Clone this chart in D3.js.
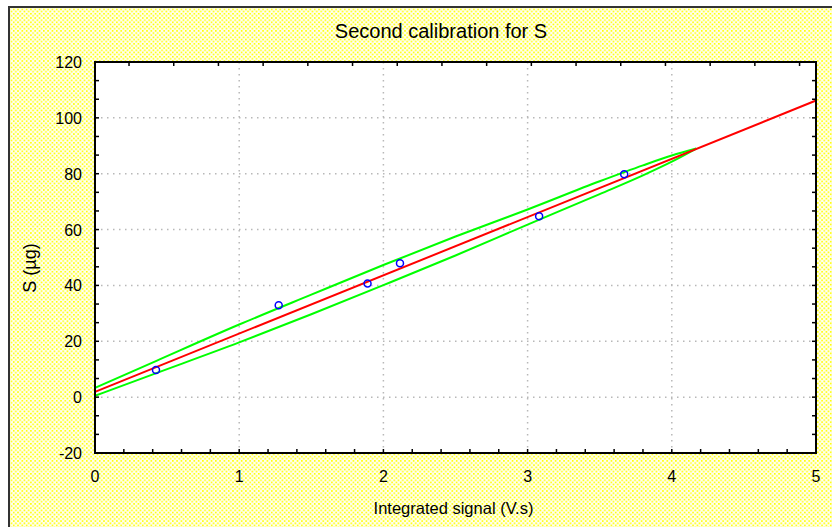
<!DOCTYPE html>
<html>
<head>
<meta charset="utf-8">
<script src="https://cdn.jsdelivr.net/npm/d3@7"></script>
<style>
  body { margin: 0; background: #fff; }
  text { font-family: "Liberation Sans", Arial, sans-serif; fill: #000; }
</style>
</head>
<body>
<div id="chart-area"></div>
<script>
// observed calibration points
let signal = [0.423, 1.274, 1.89, 2.115, 3.08, 3.67];
let amountS = [9.7, 32.9, 40.7, 47.9, 64.8, 79.8];

// fitted line, read at both ends of the plot
let fitX = [0, 5];
let fitY = [1.9, 106.2];

// confidence band (green)
let bandX = [0, 0.43, 1, 1.5, 2, 2.5, 3, 3.5, 3.8, 4.0, 4.17];
let bandUpper = [3.3, 13.1, 26.0, 36.7, 47.3, 57.5, 67.2, 77.3, 83.0, 86.5, 89.0];
let bandLower = [0.5, 8.7, 19.6, 29.7, 40.1, 50.7, 61.8, 72.7, 79.4, 84.3, 89.0];

let xTicks = [0, 1, 2, 3, 4, 5];
let yTicks = [-20, 0, 20, 40, 60, 80, 100, 120];

let W = 832, H = 527;
let margin = {top: 62, right: 16, bottom: 74, left: 95};

let svg = d3.select("#chart-area").append("svg")
    .attr("width", W)
    .attr("height", H);

// yellow dotted background
let defs = svg.append("defs");
let pat = defs.append("pattern")
    .attr("id", "dots")
    .attr("width", 4.3).attr("height", 4.3)
    .attr("patternUnits", "userSpaceOnUse");
pat.append("rect").attr("width", 4.3).attr("height", 4.3).attr("fill", "#fffff0");
pat.append("rect").attr("x", 0).attr("y", 0).attr("width", 1.6).attr("height", 1.6).attr("fill", "#ffff00");
pat.append("rect").attr("x", 2.15).attr("y", 2.15).attr("width", 1.6).attr("height", 1.6).attr("fill", "#ffff00");

svg.append("rect")
    .attr("x", 9).attr("y", 7)
    .attr("width", W - 9).attr("height", H - 7)
    .attr("fill", "url(#dots)");

// sunken frame on left and top
svg.append("path")
    .attr("d", "M9," + H + "V7H" + W)
    .attr("fill", "none")
    .attr("stroke", "#333")
    .attr("stroke-width", 2);

let x = d3.scaleLinear().domain([0, 5]).range([margin.left, W - margin.right]);
let y = d3.scaleLinear().domain([-20, 120]).range([H - margin.bottom, margin.top]);

// plot area
svg.append("rect")
    .attr("x", x(0)).attr("y", y(120))
    .attr("width", x(5) - x(0)).attr("height", y(-20) - y(120))
    .attr("fill", "#fff");

// grid
let grid = svg.append("g")
    .attr("stroke", "#b8b8b8")
    .attr("stroke-width", 1.5)
    .attr("stroke-dasharray", "1.5,4.5");
grid.selectAll(".gx")
    .data(xTicks.filter(d => d > 0 && d < 5))
    .enter().append("line")
    .attr("x1", d => x(d)).attr("x2", d => x(d))
    .attr("y1", y(120)).attr("y2", y(-20));
grid.selectAll(".gy")
    .data(yTicks.filter(d => d > -20 && d < 120))
    .enter().append("line")
    .attr("x1", x(0)).attr("x2", x(5))
    .attr("y1", d => y(d)).attr("y2", d => y(d));

// inward ticks on all four sides
let tickLen = 4;
let xMinor = d3.range(0, 5.001, 0.2);
let yMinor = d3.range(-20, 120.001, 20 / 3);
let topTicks = d3.range(0.236, 5, 0.31);

let ticks = svg.append("g").attr("stroke", "#000").attr("stroke-width", 1.5);
ticks.selectAll(".tb").data(xMinor).enter().append("line")
    .attr("x1", d => x(d)).attr("x2", d => x(d))
    .attr("y1", y(-20)).attr("y2", y(-20) - tickLen);
ticks.selectAll(".tt").data(topTicks).enter().append("line")
    .attr("x1", d => x(d)).attr("x2", d => x(d))
    .attr("y1", y(120)).attr("y2", y(120) + tickLen);
ticks.selectAll(".tl").data(yMinor).enter().append("line")
    .attr("x1", x(0)).attr("x2", x(0) + tickLen)
    .attr("y1", d => y(d)).attr("y2", d => y(d));
ticks.selectAll(".tr").data(yMinor).enter().append("line")
    .attr("x1", x(5)).attr("x2", x(5) - tickLen)
    .attr("y1", d => y(d)).attr("y2", d => y(d));

// confidence band
let bandLine = d3.line().x(d => x(d[0])).y(d => y(d[1])).curve(d3.curveMonotoneX);
[bandUpper, bandLower].forEach(b => {
    svg.append("path")
        .datum(d3.zip(bandX, b))
        .attr("d", bandLine)
        .attr("fill", "none")
        .attr("stroke", "#00ff00")
        .attr("stroke-width", 2);
});

// regression line
svg.append("path")
    .datum(d3.zip(fitX, fitY))
    .attr("d", d3.line().x(d => x(d[0])).y(d => y(d[1])))
    .attr("fill", "none")
    .attr("stroke", "#ff0000")
    .attr("stroke-width", 2);

// data points
svg.selectAll(".pt")
    .data(d3.zip(signal, amountS))
    .enter().append("circle")
    .attr("cx", d => x(d[0]))
    .attr("cy", d => y(d[1]))
    .attr("r", 3.5)
    .attr("fill", "none")
    .attr("stroke", "#0000ff")
    .attr("stroke-width", 1.5);

// plot border
svg.append("rect")
    .attr("x", x(0)).attr("y", y(120))
    .attr("width", x(5) - x(0)).attr("height", y(-20) - y(120))
    .attr("fill", "none")
    .attr("stroke", "#000")
    .attr("stroke-width", 2);

// tick labels
svg.selectAll(".xl").data(xTicks).enter().append("text")
    .attr("x", d => x(d))
    .attr("y", y(-20) + 29)
    .attr("text-anchor", "middle")
    .style("font-size", "16px")
    .text(d => d);
svg.selectAll(".yl").data(yTicks).enter().append("text")
    .attr("x", x(0) - 13)
    .attr("y", d => y(d) + 6)
    .attr("text-anchor", "end")
    .style("font-size", "16px")
    .text(d => d);

// titles
svg.append("text")
    .attr("x", 441).attr("y", 38)
    .attr("text-anchor", "middle")
    .style("font-size", "20px")
    .text("Second calibration for S");
svg.append("text")
    .attr("x", (x(0) + x(5)) / 2 - 2).attr("y", 514)
    .attr("text-anchor", "middle")
    .style("font-size", "16.5px")
    .text("Integrated signal (V.s)");
svg.append("text")
    .attr("transform", "translate(36,268) rotate(-90)")
    .attr("text-anchor", "middle")
    .style("font-size", "18px")
    .text("S (µg)");
</script>
</body>
</html>
